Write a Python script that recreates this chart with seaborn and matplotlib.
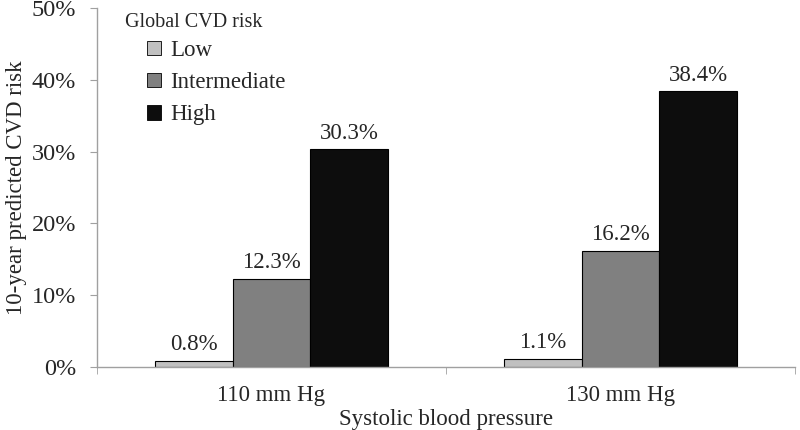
import matplotlib
matplotlib.use('Agg')
import matplotlib.pyplot as plt
import seaborn as sns
import pandas as pd
from matplotlib.ticker import FixedLocator, PercentFormatter

pressures = ['110 mm Hg', '130 mm Hg']
risk_groups = ['Low', 'Intermediate', 'High']
low = [0.8, 1.1]
intermediate = [12.3, 16.2]
high = [30.3, 38.4]
colors = ['#c0c0c0', '#808080', '#0d0d0d']

rows = []
for g, vals in zip(risk_groups, [low, intermediate, high]):
    for p, v in zip(pressures, vals):
        rows.append({'pressure': p, 'group': g, 'risk': v})
df = pd.DataFrame(rows)

sns.set_style('white')
plt.rcParams['font.family'] = ['Liberation Serif', 'DejaVu Serif']

fig = plt.figure(figsize=(8, 4.3), dpi=100)
ax = fig.add_axes([0.121, 0.147, 0.873, 0.834])

sns.barplot(data=df, x='pressure', y='risk', hue='group', hue_order=risk_groups,
            palette=colors, width=0.667, edgecolor='black', linewidth=0.8,
            saturation=1, ax=ax)

for cont in ax.containers:
    ax.bar_label(cont, labels=[f'{v:.1f}%' for v in cont.datavalues],
                 padding=4, fontsize=16.5)

ax.set_ylim(0, 50)
ax.set_xlim(-0.5, 1.5)
ax.set_yticks([0, 10, 20, 30, 40, 50])
ax.yaxis.set_major_formatter(PercentFormatter(decimals=0))
ax.xaxis.set_minor_locator(FixedLocator([-0.5, 0.5, 1.5]))
ax.tick_params(axis='x', which='major', length=0, labelsize=16.5, pad=13)
ax.tick_params(axis='x', which='minor', length=5, color='#a0a0a0', direction='out', bottom=True)
ax.tick_params(axis='y', length=5, color='#a0a0a0', direction='out', left=True,
               labelsize=17.5, pad=10)

for s in ['top', 'right']:
    ax.spines[s].set_visible(False)
for s in ['left', 'bottom']:
    ax.spines[s].set_color('#a0a0a0')
    ax.spines[s].set_linewidth(1.0)

ax.set_xlabel('Systolic blood pressure', fontsize=16.5, labelpad=2)
ax.set_ylabel('10-year predicted CVD risk', fontsize=16.5, labelpad=3)

leg = ax.legend(loc='upper left', bbox_to_anchor=(0.059, 0.937),
                frameon=False, fontsize=16.5,
                handlelength=0.6, handleheight=0.6, handletextpad=0.4,
                labelspacing=0.49, borderaxespad=0)
for h in leg.legend_handles:
    h.set_edgecolor('black')
    h.set_linewidth(0.6)
ax.text(0.041, 0.961, 'Global CVD risk', transform=ax.transAxes,
        fontsize=14.5, va='center', ha='left')

fig.savefig('out.png', dpi=100)
